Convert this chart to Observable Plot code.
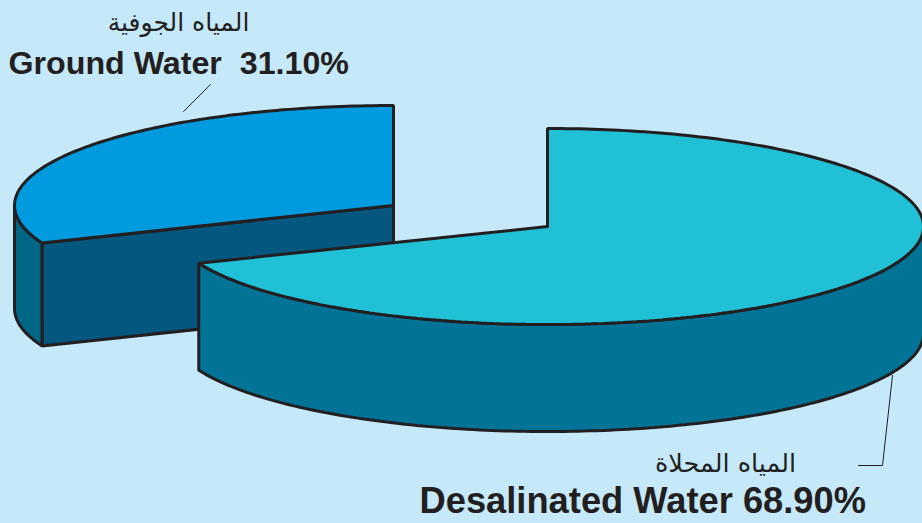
<!DOCTYPE html>
<html>
<head>
<meta charset="utf-8">
<script src="https://cdn.jsdelivr.net/npm/d3@7"></script>
<script src="https://cdn.jsdelivr.net/npm/@observablehq/plot@0.6"></script>
<style>
html,body{margin:0;padding:0;background:#c6e9fa;overflow:hidden}
svg{display:block}
</style>
</head>
<body>
<div id="chart"></div>
<script>
const W = 922, H = 523;
const names = ["Desalinated Water", "Ground Water"];
const shares = [68.9, 31.1];

const desal = {cx: 547, cy: 226, rx: 376, ry: 98, depth: 107};
const ground = {cx: 393, cy: 205, rx: 379, ry: 100, depth: 103};

const colors = {
  bg: "#c6e9fa", ink: "#231f20",
  desalTop: "#20c0d6", desalSide: "#007397",
  groundTop: "#009ade", groundFront: "#05577f", groundOuter: "#006685"
};

// Angle (degrees clockwise from the top of the ellipse) of the split, from the share
const split = shares[0] / 100 * 360;

function arc(p, a0, a1, dy = 0) {
  const n = Math.max(2, Math.ceil(Math.abs(a1 - a0)));
  return d3.range(n + 1).map(i => {
    const t = (a0 + (a1 - a0) * i / n) * Math.PI / 180;
    return {x: p.cx + p.rx * Math.sin(t), y: p.cy - p.ry * Math.cos(t) + dy};
  });
}
const centre = (p, dy = 0) => ({x: p.cx, y: p.cy + dy});

// Faces in back-to-front order
const faces = [
  {fill: colors.groundFront, pts: [arc(ground, split, split)[0], centre(ground), centre(ground, ground.depth), arc(ground, split, split, ground.depth)[0]]},
  {fill: colors.groundOuter, pts: [...arc(ground, split, 270), ...arc(ground, 270, split, ground.depth)]},
  {fill: colors.groundTop, pts: [centre(ground), ...arc(ground, split, 360)]},
  {fill: colors.desalSide, pts: [...arc(desal, 90, split), ...arc(desal, split, 90, desal.depth)]},
  {fill: colors.desalTop, pts: [centre(desal), ...arc(desal, 0, split)]}
];
const faceRows = faces.flatMap((f, i) => [...f.pts, f.pts[0]].map(p => ({...p, face: i, fill: f.fill})));

const latinText = [
  {x: 8, y: 74, label: "Ground Water\u00a0\u00a031.10%", size: 32.2},
  {x: 419, y: 513, label: "Desalinated Water 68.90%", size: 36.3}
];
const arabicText = [
  {x: 178, y: 22, label: "المياه الجوفية", size: 25},
  {x: 725, y: 463, label: "المياه المحلاة", size: 25.5}
];
const leaders = [
  {id: 0, x: 183, y: 111}, {id: 0, x: 210, y: 84},
  {id: 1, x: 892, y: 375}, {id: 1, x: 882, y: 465}, {id: 1, x: 858, y: 465}
];

const plot = Plot.plot({
  width: W, height: H,
  margin: 0,
  style: {background: colors.bg},
  x: {domain: [0, W], range: [0, W], axis: null},
  y: {domain: [0, H], range: [0, H], axis: null},
  marks: [
    Plot.line(faceRows, {
      x: "x", y: "y", z: "face", fill: "fill",
      stroke: colors.ink, strokeWidth: 3, strokeLinejoin: "miter", curve: "linear"
    }),
    Plot.line(leaders, {x: "x", y: "y", z: "id", stroke: colors.ink, strokeWidth: 1}),
    ...latinText.map(d => Plot.text([d], {
      x: "x", y: "y", text: "label", textAnchor: "start", lineAnchor: "bottom",
      fontFamily: "Liberation Sans", fontWeight: "bold", fontSize: d.size, fill: colors.ink, dy: -1
    })),
    ...arabicText.map(d => Plot.text([d], {
      x: "x", y: "y", text: "label", fontFamily: "DejaVu Sans", fontSize: d.size, fill: colors.ink
    }))
  ]
});
document.getElementById("chart").append(plot);
</script>
</body>
</html>
